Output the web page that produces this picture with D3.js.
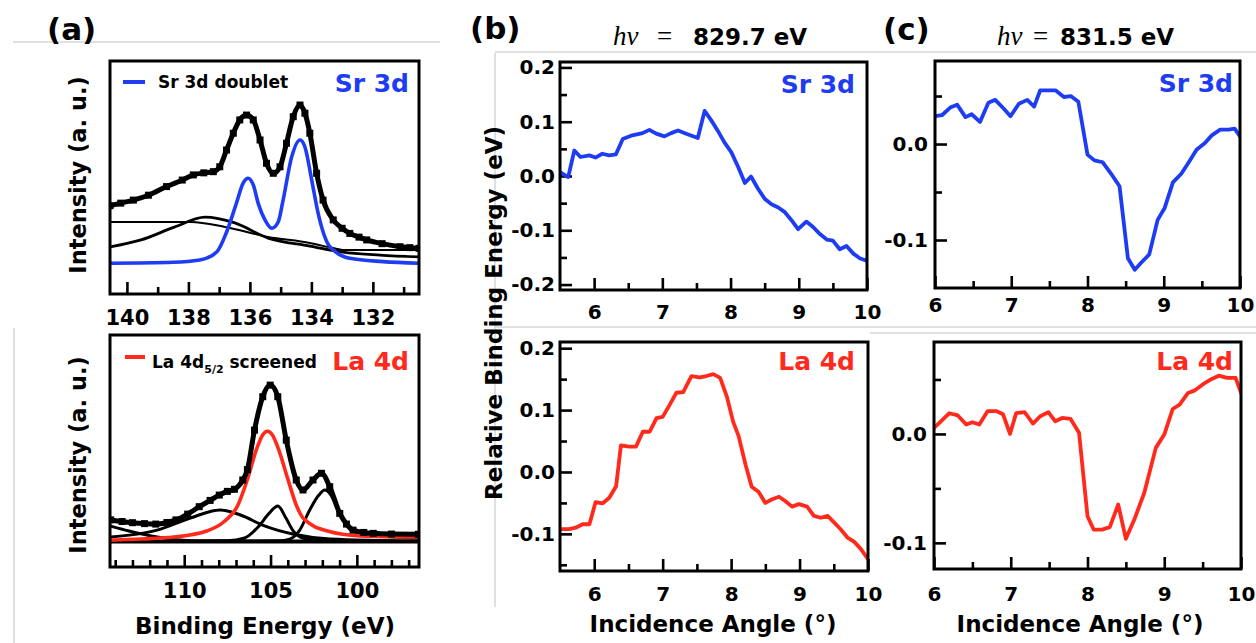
<!DOCTYPE html>
<html><head><meta charset="utf-8">
<script src="https://cdn.jsdelivr.net/npm/d3@7"></script>
<style>
body{margin:0;background:#fff;}
svg text{font-family:'DejaVu Sans',Verdana,sans-serif;font-weight:bold;}
</style>
</head><body>
<svg id="c" width="1256" height="643"></svg>
<script>
// ---------- DATA ----------
// Panel (a) top: Sr 3d spectrum  [binding energy (eV), intensity (a.u.)]
const srMeasured = [[140.55,37.9],[140.2,39.0],[139.79,40.3],[139.3,42.4],[138.71,46.1],[138.2,48.9],[137.84,51.1],[137.5,52.0],[137.19,52.5],[136.98,54.6],[136.76,61.8],[136.54,69.0],[136.33,74.7],[136.11,76.8],[135.89,74.7],[135.67,66.1],[135.46,56.1],[135.24,51.8],[135.02,54.6],[134.81,64.7],[134.59,76.1],[134.37,81.1],[134.21,77.6],[134.05,69.0],[133.83,51.8],[133.62,40.3],[133.29,31.8],[133.0,28.2],[132.75,26.0],[132.45,24.4],[132.20,23.2],[131.7,21.6],[131.12,20.3],[130.8,19.9],[130.5,19.6]];
const srDoublet = [[140.55,13.2],[138.5,13.6],[137.63,14.6],[137.08,18.0],[136.76,26.5],[136.45,38.5],[136.22,47.6],[136.06,49.7],[135.89,46.8],[135.73,38.9],[135.51,31.8],[135.29,28.2],[135.08,30.9],[134.92,40.3],[134.64,58.9],[134.37,66.1],[134.21,63.1],[133.99,48.9],[133.78,34.6],[133.40,20.3],[132.75,15.3],[131.67,13.9],[130.5,13.2]];
const srBackground = [[140.55,30.9],[137.92,30.9],[136.81,28.8],[135.41,24.5],[134.05,21.9],[133.3,19.7],[132.98,18.9],[130.5,18.9]];
const srBroad = [[140.55,20.2],[139.54,23.2],[138.44,28.8],[137.46,33.0],[136.49,30.5],[135.41,24.0],[134.05,20.6],[132.98,18.0],[131.77,16.7],[130.5,15.9]];
const srTicksMajor = [140,138,136,134,132];
const srTicksMinor = [139,137,135,133,131];

// Panel (a) bottom: La 4d spectrum
const laMeasured = [[114.26,20.3],[113.6,19.6],[113.0,19.1],[112.3,18.7],[111.65,18.5],[111.0,19.2],[110.48,20.3],[109.8,22.8],[109.13,26.0],[108.5,28.7],[107.97,31.0],[107.5,32.6],[107.09,33.5],[106.61,37.5],[106.34,42.0],[105.93,59.0],[105.45,73.4],[105.02,78.4],[104.58,73.4],[104.09,54.7],[103.51,37.5],[103.12,33.2],[102.54,37.5],[102.05,40.4],[101.57,34.6],[100.99,23.1],[100.6,18.5],[100.22,15.9],[99.6,14.9],[99.05,14.5],[98.0,14.2],[96.44,14.1]];
const laScreened = [[114.3,11.6],[112.5,12.1],[110.6,12.9],[108.7,15.5],[107.7,19.5],[106.9,26.5],[106.33,38],[105.8,51],[105.45,57],[105.17,58.5],[104.9,57],[104.55,51],[104.0,38],[103.5,26.5],[103.1,21],[101.7,15.5],[99.8,13.4],[96.4,12.9]];
const laBroad = [[114.3,12.9],[111.57,15.9],[109.65,21.1],[107.91,24.6],[106.74,22.4],[105.35,17.7],[103.72,14.2],[101.57,12.1],[96.4,11.2]];
const laHigh = [[114.3,17.7],[113.2,15.5],[111.57,12.9],[109.1,11.2],[96.4,11.2]];
const laSmall = [[114.3,11.0],[107.5,11.3],[106.5,12.5],[105.7,17.4],[105.1,23],[104.58,26.3],[104.1,21],[103.72,15.9],[103.14,12.5],[102.0,11.3],[96.4,11.0]];
const la32 = [[114.3,11.0],[104.5,11.3],[103.9,12],[103.31,15.9],[102.73,24.6],[102.2,31],[101.86,33.2],[101.5,31],[101.16,25.9],[100.58,19],[99.83,14.7],[97.9,12.9],[96.4,12.5]];
const laBaseline = [[114.3,10.9],[96.4,10.9]];
const laTicksMajor = [110,105,100];
const laTicksMinor = [114,113,112,111,109,108,107,106,104,103,102,101,99,98,97];

// Panels (b),(c): relative binding energy (eV) vs incidence angle (deg)
const srShiftB = [[5.5,0.007],[5.62,-0.002],[5.71,0.047],[5.80,0.035],[5.93,0.038],[6.02,0.034],[6.12,0.041],[6.22,0.038],[6.32,0.040],[6.42,0.068],[6.56,0.075],[6.71,0.079],[6.81,0.085],[6.91,0.078],[7.03,0.073],[7.13,0.079],[7.23,0.084],[7.35,0.078],[7.52,0.070],[7.62,0.120],[7.72,0.102],[7.81,0.084],[7.91,0.062],[8.01,0.044],[8.11,0.017],[8.21,-0.013],[8.30,-0.001],[8.40,-0.023],[8.50,-0.042],[8.60,-0.052],[8.70,-0.058],[8.79,-0.066],[8.89,-0.081],[8.99,-0.098],[9.11,-0.084],[9.21,-0.094],[9.31,-0.107],[9.41,-0.117],[9.50,-0.119],[9.60,-0.135],[9.70,-0.129],[9.80,-0.143],[9.90,-0.152],[10.0,-0.156]];
const laShiftB = [[5.5,-0.0925],[5.63,-0.0925],[5.73,-0.090],[5.83,-0.0845],[5.93,-0.0845],[6.02,-0.0487],[6.12,-0.0508],[6.22,-0.0417],[6.32,-0.023],[6.39,0.0428],[6.51,0.041],[6.61,0.041],[6.71,0.065],[6.81,0.065],[6.91,0.087],[7.00,0.089],[7.10,0.108],[7.20,0.128],[7.30,0.129],[7.42,0.155],[7.54,0.153],[7.64,0.155],[7.74,0.158],[7.84,0.152],[7.94,0.121],[8.03,0.081],[8.11,0.058],[8.21,0.012],[8.30,-0.024],[8.40,-0.032],[8.50,-0.050],[8.60,-0.044],[8.70,-0.040],[8.79,-0.047],[8.89,-0.056],[8.99,-0.052],[9.11,-0.056],[9.21,-0.071],[9.31,-0.074],[9.41,-0.071],[9.50,-0.081],[9.60,-0.0925],[9.70,-0.106],[9.80,-0.113],[9.90,-0.125],[10.0,-0.141]];
const srShiftC = [[6.00,0.029],[6.09,0.030],[6.20,0.038],[6.29,0.041],[6.40,0.028],[6.48,0.031],[6.59,0.023],[6.70,0.043],[6.79,0.046],[6.90,0.037],[6.99,0.029],[7.10,0.042],[7.21,0.046],[7.30,0.039],[7.38,0.056],[7.49,0.056],[7.58,0.056],[7.69,0.049],[7.78,0.050],[7.88,0.044],[8.00,-0.011],[8.09,-0.017],[8.20,-0.019],[8.31,-0.031],[8.42,-0.044],[8.53,-0.119],[8.62,-0.131],[8.70,-0.124],[8.81,-0.115],[8.92,-0.079],[9.01,-0.067],[9.12,-0.040],[9.23,-0.031],[9.32,-0.020],[9.43,-0.006],[9.54,0.001],[9.63,0.009],[9.74,0.015],[9.85,0.015],[9.93,0.016],[10.0,0.008]];
const laShiftC = [[6.00,0.0055],[6.09,0.0116],[6.20,0.019],[6.31,0.017],[6.42,0.0086],[6.50,0.0107],[6.59,0.0086],[6.70,0.021],[6.81,0.021],[6.90,0.018],[6.99,0.000],[7.07,0.019],[7.18,0.020],[7.29,0.0095],[7.38,0.016],[7.49,0.020],[7.58,0.0116],[7.67,0.0147],[7.78,0.0138],[7.89,0.001],[8.00,-0.0755],[8.08,-0.0878],[8.19,-0.0878],[8.29,-0.0856],[8.40,-0.0648],[8.50,-0.0963],[8.61,-0.0786],[8.74,-0.054],[8.89,-0.0128],[9.00,-0.0006],[9.11,0.0229],[9.20,0.0269],[9.31,0.0376],[9.40,0.040],[9.51,0.0459],[9.62,0.0505],[9.71,0.0535],[9.82,0.0514],[9.93,0.0514],[10.0,0.0376]];
const angleMajor = [6,7,8,9,10];
const angleMinor = [6.5,7.5,8.5,9.5];
const yMajorBTop = [0.2,0.1,0.0,-0.1,-0.2];
const yMinorBTop = [0.15,0.05,-0.05,-0.15];
const yMajorBBot = [0.2,0.1,0.0,-0.1];
const yMinorBBot = [0.15,0.05,-0.05,-0.15];
const yMajorC = [0.0,-0.1];
const yMinorC = [0.05,-0.05];

// ---------- DRAWING ----------
const BLUE = "#1e3cf2", RED = "#ff2a1c";
const svg = d3.select("#c");
const fmt1 = d => d.toFixed(1);

// faint page-border artifacts
const gray = [[13,42,440,42],[14,328,14,643],[495,52,1256,52],[495,53,495,607],[495,327,1256,327],[870,333,1256,333]];
svg.append("g").selectAll("line").data(gray).join("line")
  .attr("x1",d=>d[0]).attr("y1",d=>d[1]).attr("x2",d=>d[2]).attr("y2",d=>d[3])
  .attr("stroke","#d6d6d6").attr("stroke-width",1.5);

let clipN = 0;
function panel(p){
  const g = svg.append("g");
  const x = d3.scaleLinear().domain(p.xDomain).range([p.left,p.right]);
  const y = d3.scaleLinear().domain(p.yDomain).range([p.bottom,p.top]);
  const id = "clip"+(clipN++);
  svg.append("clipPath").attr("id",id).append("rect")
    .attr("x",p.left).attr("y",p.top).attr("width",p.right-p.left).attr("height",p.bottom-p.top);
  const style = sel => { sel.select(".domain").remove();
    sel.selectAll(".tick line").attr("stroke","#000").attr("stroke-width",2.6);
    sel.selectAll("text").attr("font-family",null).attr("font-size",null)
      .style("font-size",p.tickFont+"px").attr("fill","#000"); };
  g.append("g").attr("transform",`translate(0,${p.bottom})`)
    .call(d3.axisBottom(x).tickValues(p.xMinor).tickSizeInner(-7).tickSizeOuter(0).tickFormat(""))
    .call(style);
  g.append("g").attr("transform",`translate(0,${p.bottom})`)
    .call(d3.axisBottom(x).tickValues(p.xMajor).tickSizeInner(-12).tickSizeOuter(0).tickPadding(p.xPad).tickFormat(p.xFmt||(d=>d)))
    .call(style);
  if (p.yMajor){
    g.append("g").attr("transform",`translate(${p.left},0)`)
      .call(d3.axisLeft(y).tickValues(p.yMinor).tickSizeInner(-7).tickSizeOuter(0).tickFormat(""))
      .call(style);
    g.append("g").attr("transform",`translate(${p.left},0)`)
      .call(d3.axisLeft(y).tickValues(p.yMajor).tickSizeInner(-12).tickSizeOuter(0).tickPadding(p.yPad).tickFormat(fmt1))
      .call(style);
  }
  const plot = g.append("g").attr("clip-path",`url(#${id})`);
  g.append("rect").attr("x",p.left).attr("y",p.top).attr("width",p.right-p.left).attr("height",p.bottom-p.top)
    .attr("fill","none").attr("stroke","#000").attr("stroke-width",3);
  return {x,y,plot,g};
}
function line(P, data, color, w, curve){
  const gen = d3.line().x(d=>P.x(d[0])).y(d=>P.y(d[1])).curve(curve||d3.curveLinear);
  P.plot.append("path").datum(data).attr("d",gen).attr("fill","none")
    .attr("stroke",color).attr("stroke-width",w).attr("stroke-linejoin","round").attr("stroke-linecap","round");
}
function markers(P, data){
  P.plot.append("g").selectAll("rect").data(data).join("rect")
    .attr("x",d=>P.x(d[0])-3.5).attr("y",d=>P.y(d[1])-3.5).attr("width",7).attr("height",7).attr("fill","#000");
}
function txt(x,y,s,o){
  o=o||{};
  const t = svg.append("text").attr("x",x).attr("y",y).text(s)
    .style("font-size",(o.size||20)+"px").attr("fill",o.fill||"#000")
    .attr("text-anchor",o.anchor||"start");
  if(o.family) t.style("font-family",o.family);
  if(o.weight) t.style("font-weight",o.weight);
  if(o.italic) t.style("font-style","italic");
  if(o.rotate) t.attr("transform",`rotate(-90,${x},${y})`);
  if(o.len) t.attr("textLength",o.len).attr("lengthAdjust","spacingAndGlyphs");
  return t;
}

// ----- (a) top -----
const A1 = panel({left:110,right:419,top:61,bottom:294,xDomain:[140.55,130.5],yDomain:[0,100],
  xMajor:srTicksMajor,xMinor:srTicksMinor,xPad:16,tickFont:21});
line(A1, srBackground, "#000", 2, d3.curveMonotoneX);
line(A1, srBroad, "#000", 2.8, d3.curveMonotoneX);
line(A1, srDoublet, BLUE, 3.6, d3.curveMonotoneX);
line(A1, srMeasured, "#000", 5, d3.curveMonotoneX);
markers(A1, srMeasured);
svg.append("line").attr("x1",123).attr("x2",145).attr("y1",82).attr("y2",82).attr("stroke",BLUE).attr("stroke-width",4);
txt(158,88,"Sr 3d doublet",{size:17});
txt(409,92,"Sr 3d",{size:25,fill:BLUE,anchor:"end"});

// ----- (a) bottom -----
const A2 = panel({left:110,right:419,top:335,bottom:567,xDomain:[114.3,96.4],yDomain:[0,100],
  xMajor:laTicksMajor,xMinor:laTicksMinor,xPad:16,tickFont:21});
line(A2, laBaseline, "#000", 3.4);
line(A2, laHigh, "#000", 3, d3.curveMonotoneX);
line(A2, laBroad, "#000", 3, d3.curveMonotoneX);
line(A2, laSmall, "#000", 3, d3.curveMonotoneX);
line(A2, la32, "#000", 3, d3.curveMonotoneX);
line(A2, laScreened, RED, 3.6, d3.curveMonotoneX);
line(A2, laMeasured, "#000", 5, d3.curveMonotoneX);
markers(A2, laMeasured);
svg.append("line").attr("x1",125).attr("x2",145).attr("y1",357).attr("y2",357).attr("stroke",RED).attr("stroke-width",4);
const lt = txt(152,368,"La 4d",{size:17});
lt.append("tspan").text("5/2").attr("dy",5).style("font-size","11px");
lt.append("tspan").text(" screened").attr("dy",-5).style("font-size","17px");
txt(409,370,"La 4d",{size:25,fill:RED,anchor:"end"});

txt(86,175,"Intensity (a. u.)",{size:22.5,anchor:"middle",rotate:true});
txt(86,455,"Intensity (a. u.)",{size:22.5,anchor:"middle",rotate:true});
txt(265,634,"Binding Energy (eV)",{size:23,anchor:"middle"});

// ----- (b) -----
const B1 = panel({left:560,right:867,top:62,bottom:290,xDomain:[5.5,10],yDomain:[-0.21,0.21],
  xMajor:angleMajor,xMinor:angleMinor,xPad:15,yMajor:yMajorBTop,yMinor:yMinorBTop,yPad:5,tickFont:20});
line(B1, srShiftB, BLUE, 3.8);
txt(855,93,"Sr 3d",{size:25,fill:BLUE,anchor:"end"});
const B2 = panel({left:560,right:868,top:342,bottom:571,xDomain:[5.5,10],yDomain:[-0.16,0.21],
  xMajor:angleMajor,xMinor:angleMinor,xPad:16,yMajor:yMajorBBot,yMinor:yMinorBBot,yPad:5,tickFont:20});
line(B2, laShiftB, RED, 3.8);
txt(855,370,"La 4d",{size:25,fill:RED,anchor:"end"});
txt(502,313,"Relative Binding Energy (eV)",{size:23,anchor:"middle",rotate:true});
txt(713,632,"Incidence Angle (°)",{size:23,anchor:"middle"});

// ----- (c) -----
const C1 = panel({left:935,right:1240,top:61,bottom:288,xDomain:[6,10],yDomain:[-0.15,0.0865],
  xMajor:angleMajor,xMinor:angleMinor,xPad:10,yMajor:yMajorC,yMinor:yMinorC,yPad:7,tickFont:20});
line(C1, srShiftC, BLUE, 3.8);
txt(1233,92,"Sr 3d",{size:25,fill:BLUE,anchor:"end"});
const C2 = panel({left:934,right:1241,top:342,bottom:569,xDomain:[6,10],yDomain:[-0.124,0.0844],
  xMajor:angleMajor,xMinor:angleMinor,xPad:18,yMajor:yMajorC,yMinor:yMinorC,yPad:7,tickFont:20});
line(C2, laShiftC, RED, 3.8);
txt(1233,370,"La 4d",{size:25,fill:RED,anchor:"end"});
txt(1080,632,"Incidence Angle (°)",{size:23,anchor:"middle"});

// ----- headers -----
txt(47,40,"(a)",{size:31});
txt(470,39,"(b)",{size:31});
txt(883,40,"(c)",{size:31});
const SERIF = "'Liberation Serif','Times New Roman',serif";
txt(613,45,"hν",{size:27,family:SERIF,weight:"normal",italic:true});
txt(657,45,"=",{size:27,family:SERIF,weight:"normal"});
txt(693,45,"829.7 eV",{size:23});
txt(997,45,"hν",{size:27,family:SERIF,weight:"normal",italic:true});
txt(1033,45,"=",{size:27,family:SERIF,weight:"normal"});
txt(1060,45,"831.5 eV",{size:23});
</script>
</body></html>
